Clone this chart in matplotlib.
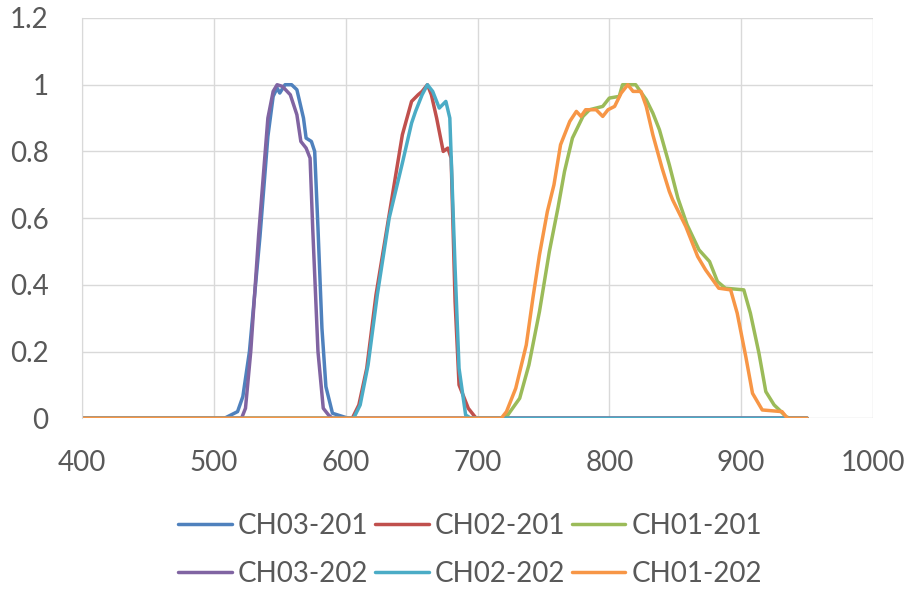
import matplotlib
matplotlib.use("Agg")
import matplotlib.pyplot as plt

# wavelength (nm) / relative response
ch03_201_x = [400, 508, 513, 518, 522, 527, 535, 541, 545, 548, 550, 554, 559, 563, 568, 570, 574, 576.5, 579, 582, 585, 590, 598, 602, 950]
ch03_201_y = [0, 0, 0.01, 0.02, 0.065, 0.2, 0.545, 0.845, 0.965, 0.99, 0.975, 1.0, 1.0, 0.985, 0.9, 0.84, 0.83, 0.8, 0.57, 0.27, 0.095, 0.015, 0.005, 0, 0]

ch02_201_x = [400, 605, 610, 616, 623, 633, 643, 650, 655, 658, 662, 665, 669, 674, 677.5, 680, 683, 686, 693, 699, 950]
ch02_201_y = [0, 0, 0.04, 0.15, 0.37, 0.61, 0.85, 0.95, 0.97, 0.98, 1.0, 0.97, 0.9, 0.8, 0.81, 0.78, 0.35, 0.1, 0.03, 0, 0]

ch01_201_x = [400, 720, 723, 732, 739, 747, 754.5, 761, 766, 772, 780, 785, 795, 800, 807.5, 810, 820, 828, 833, 838, 845.5,
              852, 859, 868, 876, 882, 888, 902, 907, 913.5, 918.7, 925, 929, 934, 937, 950]
ch01_201_y = [0, 0, 0.01, 0.06, 0.16, 0.32, 0.5, 0.63, 0.74, 0.84, 0.905, 0.925, 0.935, 0.96, 0.965, 1.0, 1.0, 0.955, 0.915, 0.865, 0.76,
              0.66, 0.58, 0.505, 0.47, 0.41, 0.39, 0.385, 0.315, 0.195, 0.08, 0.04, 0.025, 0.005, 0, 0]

ch03_202_x = [400, 521, 524, 528, 534, 541, 545, 548, 552, 558, 563, 566, 570, 573, 575, 579, 583, 587, 590, 950]
ch03_202_y = [0, 0, 0.03, 0.2, 0.55, 0.9, 0.98, 1.0, 0.995, 0.97, 0.91, 0.83, 0.81, 0.78, 0.57, 0.2, 0.03, 0.01, 0, 0]

ch02_202_x = [400, 606, 611, 617, 624, 633, 643, 650, 653, 658, 662, 666, 671, 676, 679, 683, 686, 691, 695, 950]
ch02_202_y = [0, 0, 0.04, 0.16, 0.37, 0.6, 0.765, 0.885, 0.92, 0.97, 1.0, 0.98, 0.93, 0.95, 0.9, 0.45, 0.15, 0.01, 0, 0]

ch01_202_x = [400, 718, 722, 729, 737, 742, 747, 753, 758, 763, 770, 775, 778.5, 782, 790, 795, 799, 804, 809, 814, 818, 824,
              828, 833, 840, 845.5, 848, 858, 867, 873, 883, 892, 897, 903.5, 908.6, 916, 931, 935, 950]
ch01_202_y = [0, 0, 0.02, 0.09, 0.22, 0.36, 0.49, 0.62, 0.7, 0.82, 0.89, 0.92, 0.905, 0.925, 0.925, 0.905, 0.925, 0.935, 0.975, 1.0, 0.98, 0.98,
              0.935, 0.85, 0.75, 0.68, 0.655, 0.575, 0.485, 0.445, 0.39, 0.385, 0.315, 0.185, 0.075, 0.025, 0.02, 0, 0]

series = [
    ("CH03-201", ch03_201_x, ch03_201_y, "#4F81BD"),
    ("CH02-201", ch02_201_x, ch02_201_y, "#C0504D"),
    ("CH01-201", ch01_201_x, ch01_201_y, "#9BBB59"),
    ("CH03-202", ch03_202_x, ch03_202_y, "#8064A2"),
    ("CH02-202", ch02_202_x, ch02_202_y, "#4BACC6"),
    ("CH01-202", ch01_202_x, ch01_202_y, "#F79646"),
]

plt.rcParams["font.family"] = ["Lato", "DejaVu Sans"]
TXT = "#595959"

fig = plt.figure(figsize=(9.1, 5.9), dpi=100)
ax = fig.add_axes([82 / 910, 1 - 418.3 / 590, (873 - 82) / 910, (418.3 - 18) / 590])

lines = {}
for name, xs, ys, col in series:
    (ln,) = ax.plot(xs, ys, color=col, lw=2.5, solid_joinstyle="round", solid_capstyle="round", label=name)
    lines[name] = ln

ax.set_xlim(400, 1000)
ax.set_ylim(0, 1.2)
ax.set_xticks(range(400, 1001, 100))
ax.set_yticks([0, 0.2, 0.4, 0.6, 0.8, 1, 1.2])
ax.set_yticklabels(["0", "0.2", "0.4", "0.6", "0.8", "1", "1.2"])
ax.grid(True, color="#D9D9D9", lw=1)
ax.set_axisbelow(True)
for s in ax.spines.values():
    s.set_visible(False)
ax.spines["left"].set_visible(True)
ax.spines["left"].set_color("#D9D9D9")
ax.tick_params(length=0, labelsize=20, colors=TXT)
ax.tick_params(axis="y", pad=24)
ax.tick_params(axis="x", pad=23)

# Excel fills the legend row by row
order = ["CH03-201", "CH03-202", "CH02-201", "CH02-202", "CH01-201", "CH01-202"]
fig.legend([lines[n] for n in order], order, loc="center", bbox_to_anchor=(470 / 910, 40 / 590),
           ncol=3, frameon=False, fontsize=20, labelcolor=TXT, handlelength=1.94,
           handletextpad=0.22, columnspacing=0.23, labelspacing=0.8)

fig.savefig("out.png", dpi=100, facecolor="white")
